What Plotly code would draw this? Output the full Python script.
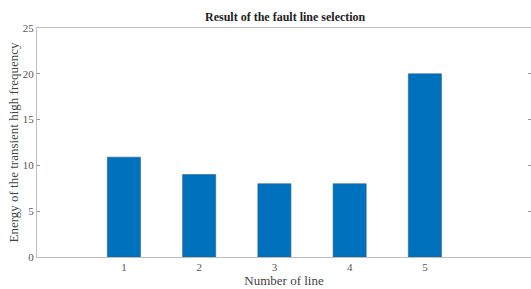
import plotly.graph_objects as go

lines = [1, 2, 3, 4, 5]
energy = [10.9, 9.0, 8.0, 8.0, 20.0]
y_ticks = [0, 5, 10, 15, 20, 25]

fig = go.Figure()
fig.add_trace(go.Bar(
    x=lines, y=energy, width=0.44,
    marker=dict(color="#0072BD", line=dict(color="#2b5f8f", width=0.6)),
))

font_family = "Liberation Serif"
fig.update_layout(
    width=531, height=289,
    margin=dict(l=37, r=0, t=28, b=32),
    paper_bgcolor="white", plot_bgcolor="white",
    showlegend=False,
    font=dict(family=font_family, size=11, color="#444"),
    title=dict(text="<b>Result of the fault line selection</b>", x=0.537, xanchor="center",
               y=1 - 17 / 289, yref="container", yanchor="middle",
               font=dict(family=font_family, size=12, color="#222")),
)
fig.update_xaxes(
    range=[-0.155, 6.41], tickvals=lines, ticktext=[str(v) for v in lines],
    showline=True, linecolor="#bdbdbd", linewidth=1, mirror=True,
    ticks="", showgrid=False, zeroline=False,
    title=dict(text="Number of line", standoff=3, font=dict(family=font_family, size=13, color="#444")),
    tickfont=dict(family=font_family, size=11, color="#555"),
)
fig.update_yaxes(
    range=[0, 25], tickvals=y_ticks,
    showline=True, linecolor="#bdbdbd", linewidth=1, mirror="ticks",
    ticks="inside", ticklen=3, tickcolor="#999",
    showgrid=False, zeroline=False,
    title=dict(text="Energy of the transient high frequency", standoff=1, font=dict(family=font_family, size=13, color="#444")),
    tickfont=dict(family=font_family, size=11, color="#555"),
)
fig.write_html("out.html", config={"displayModeBar": False},
               post_script="document.body.style.margin='0';document.body.style.overflow='hidden';")
